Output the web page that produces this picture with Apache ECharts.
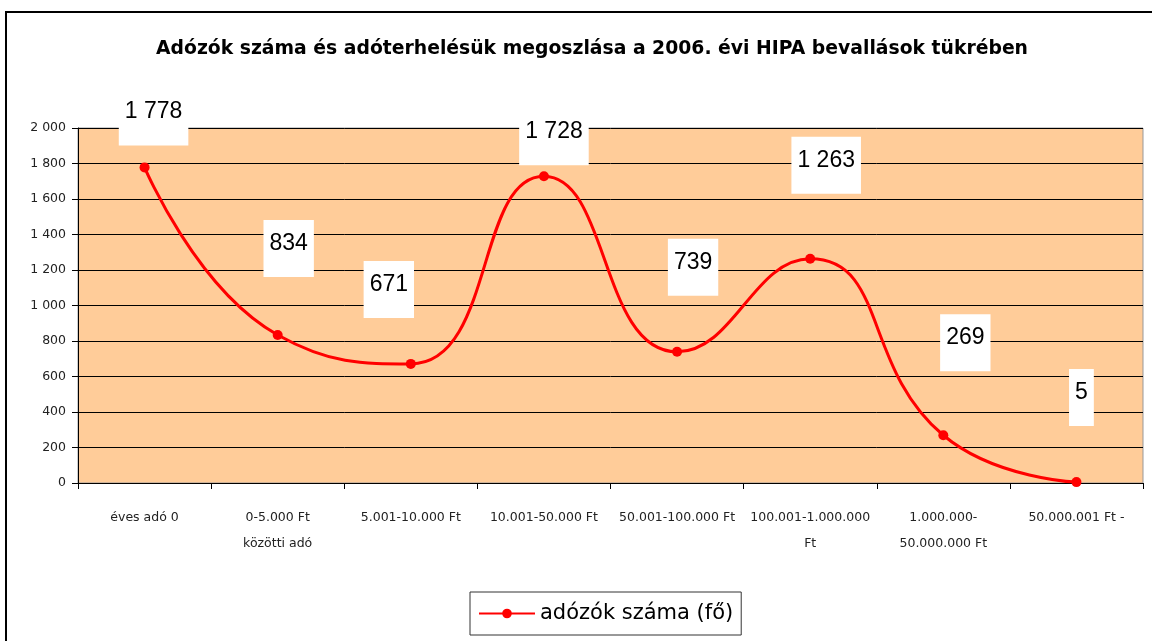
<!DOCTYPE html>
<html>
<head>
<meta charset="utf-8">
<title>Adózók száma</title>
<script src="https://cdn.jsdelivr.net/npm/echarts@6/dist/echarts.min.js"></script>
<style>
  html, body { margin: 0; padding: 0; background: #fff; }
  #chart { width: 1152px; height: 641px; }
</style>
</head>
<body>
<div id="chart"></div>
<script>
  // categories and values
  var categories = [
    'éves adó 0',
    '0-5.000 Ft\nközötti adó',
    '5.001-10.000 Ft',
    '10.001-50.000 Ft',
    '50.001-100.000 Ft',
    '100.001-1.000.000\nFt',
    '1.000.000-\n50.000.000 Ft',
    '50.000.001 Ft -'
  ];
  var taxpayers = [1778, 834, 671, 1728, 739, 1263, 269, 5];
  var yTicks = [0, 200, 400, 600, 800, 1000, 1200, 1400, 1600, 1800, 2000];

  // where excel dropped each data label (offset from the 'top' spot)
  var labelShift = [[9, -12], [11, -48], [-22, -36], [10, -1], [16, -46], [16, -55], [22, -54], [5, -46]];

  var font = 'DejaVu Sans';
  var labelFont = 'Liberation Sans';

  function spaced(v) {
    if (v < 1000) return String(v);
    return Math.floor(v / 1000) + ' ' + String(v % 1000).padStart(3, '0');
  }

  var seriesData = taxpayers.map(function (v, i) {
    return {
      value: v,
      label: { offset: labelShift[i] }
    };
  });

  var chart = echarts.init(document.getElementById('chart'));
  chart.setOption({
    backgroundColor: '#fff',
    animation: false,
    title: {
      text: 'Adózók száma és adóterhelésük megoszlása a 2006. évi HIPA bevallások tükrében',
      left: 587,
      top: 35,
      textAlign: 'center',
      textStyle: { fontFamily: font, fontSize: 18.8, fontWeight: 'bold', color: '#000' }
    },
    graphic: [{
      type: 'rect',
      shape: { x: 6, y: 12, width: 1170, height: 700 },
      style: { fill: 'none', stroke: '#000', lineWidth: 2 },
      silent: true
    }],
    legend: {
      left: 470,
      top: 592,
      data: ['adózók száma (fő)'],
      itemWidth: 56,
      itemHeight: 12,
      padding: [11, 8, 11, 8],
      borderColor: '#333',
      borderWidth: 1,
      borderRadius: 0,
      textStyle: { fontFamily: font, fontSize: 21, color: '#000' }
    },
    grid: {
      left: 78,
      right: 9,
      top: 128,
      bottom: 158,
      show: true,
      backgroundColor: '#FFCC99',
      borderColor: '#999',
      borderWidth: 1
    },
    xAxis: {
      type: 'category',
      data: categories,
      boundaryGap: true,
      axisLine: { lineStyle: { color: '#000', width: 1 } },
      axisTick: { show: true, length: 6, lineStyle: { color: '#000' } },
      axisLabel: {
        interval: 0,
        margin: 22,
        lineHeight: 26,
        fontFamily: font,
        fontSize: 12.5,
        color: '#222'
      }
    },
    yAxis: {
      type: 'value',
      min: yTicks[0],
      max: yTicks[yTicks.length - 1],
      interval: 200,
      axisLine: { show: true, lineStyle: { color: '#000', width: 1 } },
      axisTick: { show: true, length: 6, lineStyle: { color: '#000' } },
      splitLine: { lineStyle: { color: '#000', width: 1 } },
      axisLabel: {
        margin: 12,
        fontFamily: font,
        fontSize: 12.5,
        color: '#222',
        formatter: spaced
      }
    },
    series: [{
      name: 'adózók száma (fő)',
      type: 'line',
      data: seriesData,
      smooth: 0.5,
      symbol: 'circle',
      symbolSize: 10,
      color: '#FF0000',
      lineStyle: { width: 3, color: '#FF0000' },
      itemStyle: { color: '#FF0000' },
      label: {
        show: true,
        position: 'top',
        formatter: function (p) { return spaced(p.value); },
        fontFamily: labelFont,
        fontSize: 23,
        color: '#000',
        backgroundColor: '#fff',
        padding: [12, 6, 22, 6]
      }
    }]
  });
</script>
</body>
</html>
